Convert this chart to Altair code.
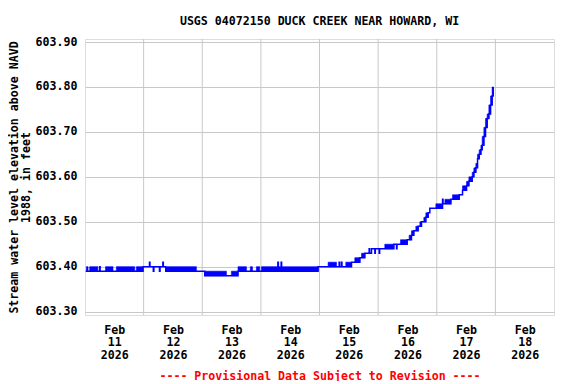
import altair as alt
import pandas as pd

# Time in days since 2026-02-11 00:00; elevation in feet (NAVD 1988)
# Segment boundaries (len N+1), and low/high values within each segment
seg_t = [0.012, 0.024, 0.052, 0.080, 0.220, 0.250, 0.258, 0.350, 0.478, 0.535,
         0.848, 0.876, 0.990, 1.100, 1.108, 1.165, 1.175, 1.270, 1.280, 1.328,
         1.336, 1.377, 1.900, 2.042, 2.412, 2.497, 2.610, 2.754, 2.820, 2.856,
         2.924, 2.980, 3.010, 3.290, 3.298, 3.346, 3.354, 3.976, 4.147, 4.290,
         4.335, 4.343, 4.375, 4.383, 4.449, 4.546, 4.602, 4.688, 4.717, 4.773,
         4.847, 4.855, 4.887, 4.944, 4.952, 5.018, 5.026, 5.114, 5.268, 5.314,
         5.322, 5.382, 5.495, 5.529, 5.569, 5.609, 5.643, 5.683, 5.712, 5.740,
         5.780, 5.814, 5.854, 5.882, 5.985, 6.099, 6.107, 6.139, 6.241, 6.269,
         6.383, 6.440, 6.508, 6.548, 6.605, 6.633, 6.667, 6.696, 6.724, 6.753,
         6.775, 6.804, 6.832, 6.860, 6.889, 6.918, 6.945, 6.963]
seg_lo = [603.39, 603.39, 603.39, 603.39, 603.39, 603.40, 603.39, 603.39, 603.39, 603.39,
          603.39, 603.39, 603.40, 603.41, 603.40, 603.39, 603.40, 603.39, 603.40, 603.41,
          603.40, 603.39, 603.39, 603.38, 603.38, 603.38, 603.39, 603.39, 603.39, 603.39,
          603.39, 603.39, 603.39, 603.41, 603.39, 603.41, 603.39, 603.40, 603.40, 603.40,
          603.41, 603.40, 603.41, 603.40, 603.40, 603.41, 603.41, 603.42, 603.42, 603.43,
          603.44, 603.43, 603.44, 603.43, 603.44, 603.43, 603.44, 603.44, 603.45, 603.44,
          603.45, 603.45, 603.46, 603.46, 603.47, 603.48, 603.48, 603.49, 603.49, 603.50,
          603.50, 603.51, 603.52, 603.53, 603.53, 603.55, 603.54, 603.54, 603.55, 603.55,
          603.56, 603.57, 603.58, 603.59, 603.60, 603.61, 603.62, 603.64, 603.65, 603.66,
          603.67, 603.69, 603.71, 603.73, 603.74, 603.76, 603.78]
seg_hi = [603.39, 603.40, 603.39, 603.40, 603.39, 603.40, 603.39, 603.40, 603.39, 603.40,
          603.39, 603.40, 603.40, 603.41, 603.40, 603.39, 603.40, 603.39, 603.40, 603.41,
          603.40, 603.40, 603.39, 603.39, 603.38, 603.39, 603.40, 603.39, 603.40, 603.39,
          603.40, 603.39, 603.40, 603.41, 603.40, 603.41, 603.40, 603.40, 603.41, 603.40,
          603.41, 603.40, 603.41, 603.40, 603.41, 603.41, 603.42, 603.42, 603.43, 603.43,
          603.44, 603.43, 603.44, 603.43, 603.44, 603.43, 603.44, 603.45, 603.45, 603.44,
          603.45, 603.46, 603.46, 603.47, 603.48, 603.48, 603.49, 603.49, 603.50, 603.50,
          603.51, 603.52, 603.52, 603.53, 603.54, 603.55, 603.54, 603.55, 603.55, 603.56,
          603.56, 603.58, 603.59, 603.60, 603.61, 603.62, 603.63, 603.65, 603.66, 603.67,
          603.69, 603.71, 603.73, 603.74, 603.76, 603.78, 603.80]
final_value = 603.80

grid_days = [1, 2, 3, 4, 5, 6, 7]
label_days = [0.5, 1.5, 2.5, 3.5, 4.5, 5.5, 6.5, 7.5]
y_ticks = [603.30, 603.40, 603.50, 603.60, 603.70, 603.80, 603.90]
title_text = ["USGS 04072150 DUCK CREEK NEAR HOWARD, WI"]

FONT = "DejaVu Sans Mono"
FS = 11.6
BLUE = "#0000ff"
GRID = "#c8c8c8"
W, H = 469, 276

segs = pd.DataFrame({"t0": seg_t[:-1], "t1": seg_t[1:], "lo": seg_lo, "hi": seg_hi})
bands = segs[segs["hi"] > segs["lo"]]
line_df = pd.DataFrame({"t": seg_t, "v": seg_lo + [final_value]})
grid_df = pd.DataFrame({"d": grid_days})
title_df = pd.DataFrame({"txt": title_text})

xscale = alt.Scale(domain=[0, 8], nice=False, zero=False)
yscale = alt.Scale(domain=[603.2925, 603.9067], nice=False, zero=False)

xaxis = alt.Axis(
    values=label_days, grid=False, ticks=False, domain=False,
    labelExpr="['Feb', '' + (floor(datum.value) + 11), '2026']",
    labelFont=FONT, labelFontSize=FS, labelFontWeight="bold", labelColor="black",
    labelPadding=9, labelLineHeight=12.7, labelBaseline="top",
    labelOverlap=False, labelBound=False, labelFlush=False,
    title="---- Provisional Data Subject to Revision ----",
    titleFont=FONT, titleFontSize=FS, titleFontWeight="bold", titleColor="#ff0000",
    titlePadding=9,
)
yaxis = alt.Axis(
    values=y_ticks, grid=True, gridColor=GRID, gridWidth=1, ticks=False, domain=False,
    labelExpr="format(datum.value, '.2f')",
    labelFont=FONT, labelFontSize=FS, labelFontWeight="bold", labelColor="black",
    labelPadding=8,
    title=["Stream water level elevation above NAVD", "1988, in feet"],
    titleFont=FONT, titleFontSize=FS, titleFontWeight="bold", titleColor="black",
    titleLineHeight=12.0, titlePadding=3.5,
)

rules = alt.Chart(grid_df).mark_rule(color=GRID, strokeWidth=1).encode(
    x=alt.X("d:Q", scale=xscale, axis=xaxis)
)
band_layer = alt.Chart(bands).mark_rect(color=BLUE, stroke=BLUE, strokeWidth=0.6).encode(
    x=alt.X("t0:Q", scale=xscale, axis=xaxis),
    x2="t1:Q",
    y=alt.Y("lo:Q", scale=yscale, axis=yaxis),
    y2="hi:Q",
)
line_layer = alt.Chart(line_df).mark_line(color=BLUE, strokeWidth=1.5, interpolate="step-after").encode(
    x=alt.X("t:Q", scale=xscale, axis=xaxis),
    y=alt.Y("v:Q", scale=yscale, axis=yaxis),
)
title_layer = alt.Chart(title_df).mark_text(
    font=FONT, fontSize=FS, fontWeight="bold", color="black",
    align="center", baseline="alphabetic",
).encode(
    text="txt:N",
    x=alt.value(W / 2),
    y=alt.value(-14),
)

chart = alt.layer(rules, band_layer, line_layer, title_layer).properties(
    width=W, height=H,
    autosize=alt.AutoSizeParams(type="none"),
    padding={"left": 77, "top": 31, "right": 14, "bottom": 66},
).configure_view(stroke="black", strokeWidth=1.2).configure(background="white")

chart.save("out.html", embed_options={"renderer": "svg", "actions": False})
